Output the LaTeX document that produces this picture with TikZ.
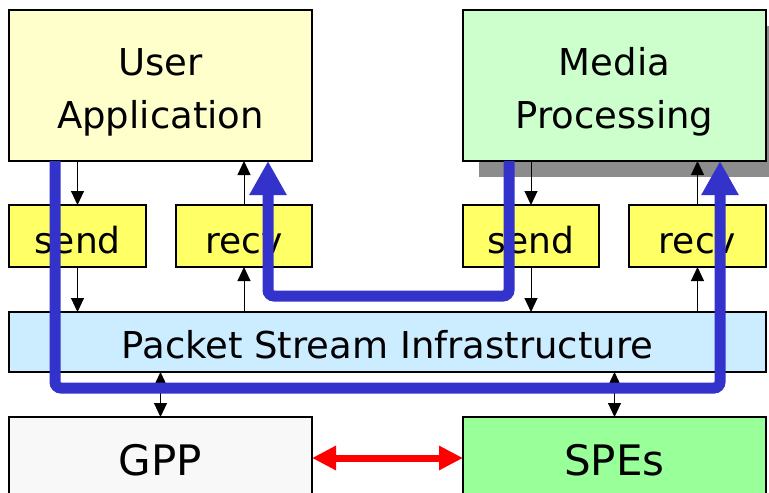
\documentclass[tikz,border=0pt]{standalone}
\usepackage{fontspec}
\setmainfont{DejaVu Sans}
\usetikzlibrary{arrows.meta,shadows}

\definecolor{appfill}{HTML}{FFFFCC}
\definecolor{mediafill}{HTML}{CCFFCC}
\definecolor{apifill}{HTML}{FFFF66}
\definecolor{psifill}{HTML}{CCECFF}
\definecolor{gppfill}{HTML}{F8F8F8}
\definecolor{spefill}{HTML}{99FF99}
\definecolor{flowblue}{HTML}{3333CC}

% extra room above the first line of a two-line label
\newcommand{\toppad}{\rule{0pt}{40pt}}

\tikzset{
  box/.style={draw=black, line width=1.2pt, anchor=north west, inner sep=0pt,
              outer sep=0pt, align=center},
  bigtext/.style={font=\fontsize{37}{53}\selectfont},
  bartext/.style={font=\fontsize{37}{53}\selectfont, text height=32pt, text depth=0pt},
  apitext/.style={font=\fontsize{36}{40}\selectfont, text height=34pt, text depth=0pt},
  hwtext/.style={font=\fontsize{42}{46}\selectfont, text height=34pt, text depth=0pt},
  thinarrow/.style={line width=1pt, -{Triangle[width=13pt,length=14pt]}},
  thinboth/.style={line width=1pt, {Triangle[width=13pt,length=14pt]}-{Triangle[width=13pt,length=14pt]}},
  flow/.style={draw=flowblue, line width=11pt, rounded corners=6pt,
               -{Triangle[width=35pt,length=34pt]}},
  link/.style={draw=red, line width=7pt,
               {Triangle[width=23pt,length=24pt]}-{Triangle[width=23pt,length=24pt]}}
}

\begin{document}
\begin{tikzpicture}[x=1pt,y=-1pt]
\useasboundingbox (0,0) rectangle (769,493);

% application layer
\node[box, bigtext, fill=appfill, minimum width=303pt, minimum height=151pt]
  (ua) at (9,10) {\toppad User\\Application};
\node[box, bigtext, fill=mediafill, minimum width=303pt, minimum height=151pt,
      general shadow={fill=black!45, shadow xshift=16pt, shadow yshift=-16pt}]
  (mp) at (463,10) {\toppad Media\\Processing};

% send / recv interfaces
\node[box, apitext, fill=apifill, minimum width=137pt, minimum height=62pt]
  (sendL) at (9,205) {send};
\node[box, apitext, fill=apifill, minimum width=136pt, minimum height=62pt]
  (recvL) at (176,205) {recv};
\node[box, apitext, fill=apifill, minimum width=136pt, minimum height=62pt]
  (sendR) at (463,205) {send};
\node[box, apitext, fill=apifill, minimum width=137pt, minimum height=62pt]
  (recvR) at (629,205) {recv};

% infrastructure bar
\node[box, bartext, fill=psifill, minimum width=757pt, minimum height=60pt]
  (psi) at (9,312) {Packet Stream Infrastructure};

% hardware
\node[box, hwtext, fill=gppfill, minimum width=303pt, minimum height=82pt]
  (gpp) at (9,417) {GPP};
\node[box, hwtext, fill=spefill, minimum width=303pt, minimum height=82pt]
  (spe) at (463,417) {SPEs};

% thin data arrows
\draw[thinarrow] (ua.south -| sendL.north) -- (sendL.north);
\draw[thinarrow] (sendL.south) -- (sendL.south |- psi.north);
\draw[thinarrow] (psi.north -| recvL.south) -- (recvL.south);
\draw[thinarrow] (recvL.north) -- (recvL.north |- ua.south);
\draw[thinarrow] (mp.south -| sendR.north) -- (sendR.north);
\draw[thinarrow] (sendR.south) -- (sendR.south |- psi.north);
\draw[thinarrow] (psi.north -| recvR.south) -- (recvR.south);
\draw[thinarrow] (recvR.north) -- (recvR.north |- mp.south);
\draw[thinboth] (psi.south -| gpp.north) -- (gpp.north);
\draw[thinboth] (psi.south -| spe.north) -- (spe.north);

% GPP <-> SPE link
\draw[link] (gpp.east) -- (spe.west);

% packet flows
\draw[flow] ([xshift=46pt]ua.south west) -- ++(0,227) -| ([xshift=-46pt]mp.south east);
\draw[flow] ([xshift=46pt]mp.south west) -- ++(0,135) -| ([xshift=-44pt]ua.south east);
\end{tikzpicture}
\end{document}
